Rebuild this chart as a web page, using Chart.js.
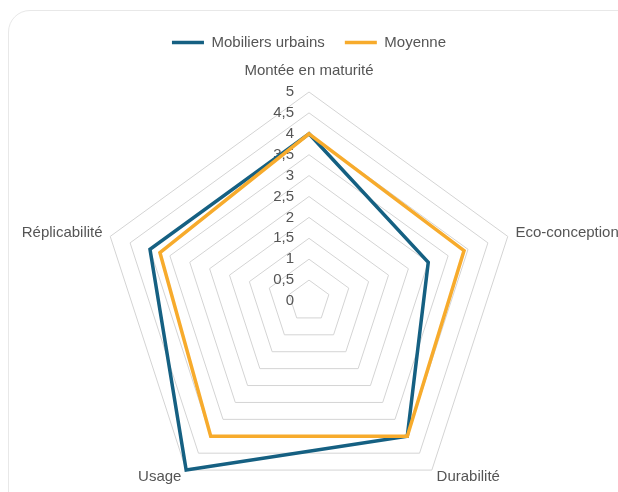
<!DOCTYPE html>
<html>
<head>
<meta charset="utf-8">
<script src="https://cdn.jsdelivr.net/npm/chart.js@4.4.1/dist/chart.umd.min.js"></script>
<style>
  html, body { margin: 0; padding: 0; background: #ffffff; overflow: hidden; }
  #wrap { position: relative; width: 618px; height: 492px; overflow: hidden; }
  #frame { position: absolute; left: 8px; top: 10px; width: 640px; height: 520px;
           border: 1px solid #e8e8e8; border-radius: 22px; box-sizing: border-box; }
  canvas { position: absolute; left: 0; top: 0; }
</style>
</head>
<body>
<div id="wrap">
  <div id="frame"></div>
  <canvas id="c" width="618" height="492"></canvas>
</div>
<script>
const categories = ["Montée en maturité", "Eco-conception", "Durabilité", "Usage", "Réplicabilité"];
const seriesNames = ["Mobiliers urbains", "Moyenne"];
const mobiliersUrbains = [4, 3, 4, 5, 4];
const moyenne = [4, 3.9, 4, 4, 3.75];
const scaleMin = 0;
const scaleMax = 5;
const scaleStep = 0.5;

const FONT = '"Liberation Sans", Arial, sans-serif';
const FONT_SIZE = 15;
const TEXT = '#555555';
const BLUE = '#156082';
const ORANGE = '#F7AB2C';

// geometry of the radial scale (matches the reference layout)
const geom = { cx: 309, cy: 301, radius: 209 };

const tickLabelPlugin = {
  id: 'tickLabels',
  beforeDatasetsDraw(chart) {
    const s = chart.scales.r;
    const ctx = chart.ctx;
    ctx.save();
    ctx.font = FONT_SIZE + 'px ' + FONT;
    ctx.fillStyle = TEXT;
    ctx.textAlign = 'right';
    ctx.textBaseline = 'middle';
    s.ticks.forEach(t => {
      const d = s.getDistanceFromCenterForValue(t.value);
      ctx.fillText(t.label, s.xCenter - 15, s.yCenter - d);
    });
    ctx.restore();
  }
};

new Chart(document.getElementById('c'), {
  type: 'radar',
  data: {
    labels: categories,
    datasets: [
      {
        label: seriesNames[0],
        data: mobiliersUrbains,
        borderColor: BLUE,
        backgroundColor: BLUE,
        borderWidth: 3.5,
        borderCapStyle: 'round',
        borderJoinStyle: 'miter',
        fill: false,
        pointRadius: 0,
        pointHoverRadius: 0,
        order: 1
      },
      {
        label: seriesNames[1],
        data: moyenne,
        borderColor: ORANGE,
        backgroundColor: ORANGE,
        borderWidth: 3.5,
        borderCapStyle: 'round',
        borderJoinStyle: 'miter',
        fill: false,
        pointRadius: 0,
        pointHoverRadius: 0,
        order: 0
      }
    ]
  },
  options: {
    responsive: false,
    devicePixelRatio: 1,
    animation: false,
    layout: { padding: { top: 15 } },
    plugins: {
      tooltip: { enabled: false },
      legend: {
        position: 'top',
        labels: {
          font: { size: FONT_SIZE, family: FONT },
          color: TEXT,
          boxWidth: 32,
          boxHeight: 0,
          padding: 20,
          sort: (a, b) => a.datasetIndex - b.datasetIndex
        }
      }
    },
    scales: {
      r: {
        min: scaleMin,
        max: scaleMax,
        beginAtZero: true,
        angleLines: { display: false },
        grid: { color: '#d4d4d4', lineWidth: 1 },
        ticks: {
          display: false,
          stepSize: scaleStep,
          callback: v => String(v).replace('.', ',')
        },
        pointLabels: {
          color: TEXT,
          font: (ctx) => ({ size: FONT_SIZE, family: FONT, lineHeight: ctx.index === 0 ? 1.2 : 0.1 }),
          padding: (ctx) => (ctx.index === 0 ? 12 : 8)
        },
        beforeFit(scale) {
          scale.setCenterPoint = function () {
            this.xCenter = geom.cx;
            this.yCenter = geom.cy;
            this.drawingArea = geom.radius;
          };
        }
      }
    }
  },
  plugins: [tickLabelPlugin]
});
</script>
</body>
</html>
